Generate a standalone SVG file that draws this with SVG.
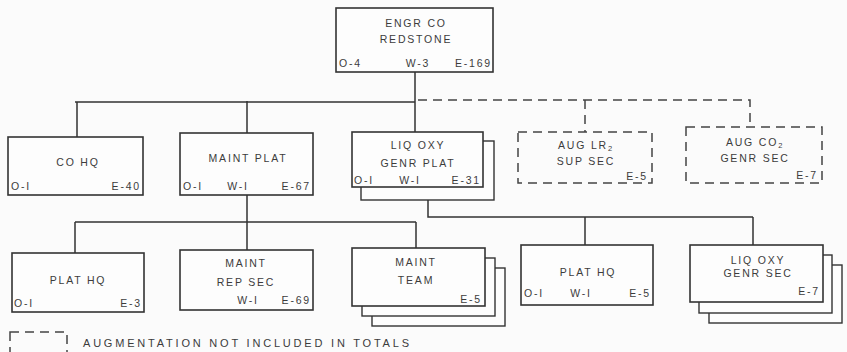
<svg xmlns="http://www.w3.org/2000/svg" width="847" height="352" viewBox="0 0 847 352">
<style>
.bx{fill:#fdfdfd;stroke:#333;stroke-width:1.6}
.sh{fill:#fdfdfd;stroke:#333;stroke-width:1.4}
.dbx{fill:none;stroke:#444;stroke-width:1.5;stroke-dasharray:9,6}
.ln{fill:none;stroke:#333;stroke-width:1.5}
.dl{fill:none;stroke:#444;stroke-width:1.5;stroke-dasharray:9,6}
text{font-family:"Liberation Sans",Arial,sans-serif;font-size:10.5px;fill:#3c3c3c;letter-spacing:1.8px}
.m{text-anchor:middle}
.e{text-anchor:end}
.sub{font-size:7.5px}
.lg{font-size:11px;letter-spacing:1px}
</style>
<rect width="847" height="352" fill="#fbfbfb"/>
<g id="connectors">
<path class="ln" d="M415 72V101M75 102H415M77 102V137M247 101V133M415 101V132"/>
<path class="dl" d="M418 100H750V127M585 100V132"/>
<path class="ln" d="M247 195V222M75 222H416M75 222V253M247 222V250M416 222V248"/>
<path class="ln" d="M428 199V217H753M585 217V245M753 217V245"/>
</g>
<g id="engr-co">
<rect class="bx" x="336" y="8" width="157" height="64"/>
<text class="m" x="416" y="27">ENGR CO</text>
<text class="m" x="416" y="43">REDSTONE</text>
<text x="339" y="67">O-4</text>
<text class="m" x="418" y="67">W-3</text>
<text class="e" x="492" y="67">E-169</text>
</g>
<g id="co-hq">
<rect class="bx" x="8" y="137" width="135" height="58"/>
<text class="m" x="78" y="166">CO HQ</text>
<text x="11" y="190">O-I</text>
<text class="e" x="141" y="190">E-40</text>
</g>
<g id="maint-plat">
<rect class="bx" x="180" y="133" width="133" height="62"/>
<text class="m" x="248" y="162">MAINT PLAT</text>
<text x="183" y="190">O-I</text>
<text class="m" x="238" y="190">W-I</text>
<text class="e" x="311" y="190">E-67</text>
</g>
<g id="liq-oxy-genr-plat">
<rect class="sh" x="361" y="141" width="133" height="59"/>
<rect class="bx" x="352" y="132" width="131" height="55"/>
<text class="m" x="418" y="149">LIQ OXY</text>
<text class="m" x="418" y="167">GENR PLAT</text>
<text x="354" y="184">O-I</text>
<text class="m" x="410" y="184">W-I</text>
<text class="e" x="481" y="184">E-31</text>
</g>
<g id="aug-lr2">
<rect class="dbx" x="518" y="132" width="134" height="51"/>
<text class="m" x="586" y="149">AUG LR<tspan class="sub" dy="2">2</tspan></text>
<text class="m" x="586" y="165">SUP SEC</text>
<text class="e" x="648" y="180">E-5</text>
</g>
<g id="aug-co2">
<rect class="dbx" x="686" y="127" width="136" height="56"/>
<text class="m" x="755" y="146">AUG CO<tspan class="sub" dy="2">2</tspan></text>
<text class="m" x="755" y="162">GENR SEC</text>
<text class="e" x="818" y="179">E-7</text>
</g>
<g id="plat-hq-1">
<rect class="bx" x="12" y="253" width="132" height="59"/>
<text class="m" x="78" y="284">PLAT HQ</text>
<text x="14" y="307">O-I</text>
<text class="e" x="142" y="307">E-3</text>
</g>
<g id="maint-rep-sec">
<rect class="bx" x="180" y="250" width="133" height="60"/>
<text class="m" x="246" y="267">MAINT</text>
<text class="m" x="246" y="286">REP SEC</text>
<text class="m" x="248" y="304">W-I</text>
<text class="e" x="311" y="304">E-69</text>
</g>
<g id="maint-team">
<rect class="sh" x="372" y="268" width="133" height="58"/>
<rect class="sh" x="362" y="258" width="133" height="58"/>
<rect class="bx" x="352" y="248" width="133" height="58"/>
<text class="m" x="416" y="266">MAINT</text>
<text class="m" x="416" y="284">TEAM</text>
<text class="e" x="482" y="303">E-5</text>
</g>
<g id="plat-hq-2">
<rect class="bx" x="521" y="245" width="132" height="60"/>
<text class="m" x="588" y="276">PLAT HQ</text>
<text x="524" y="297">O-I</text>
<text class="m" x="581" y="297">W-I</text>
<text class="e" x="651" y="297">E-5</text>
</g>
<g id="liq-oxy-genr-sec">
<rect class="sh" x="709" y="265" width="133" height="58"/>
<rect class="sh" x="699" y="255" width="133" height="58"/>
<rect class="bx" x="690" y="245" width="133" height="57"/>
<text class="m" x="758" y="264">LIQ OXY</text>
<text class="m" x="758" y="277">GENR SEC</text>
<text class="e" x="820" y="295">E-7</text>
</g>
<g id="legend">
<rect class="dbx" x="10" y="332" width="57" height="30"/>
<text class="lg" x="83" y="347" textLength="327">AUGMENTATION NOT INCLUDED IN TOTALS</text>
</g>
</svg>
